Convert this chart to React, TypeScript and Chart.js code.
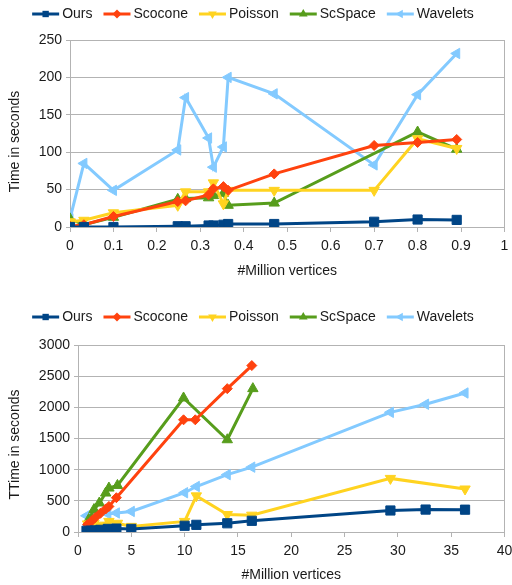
import React, { useEffect, useRef } from 'react';
import { Chart, registerables } from 'chart.js';

Chart.register(...registerables);

const FONT = '"Liberation Sans", Arial, sans-serif';
const TEXT_COLOR = '#1a1a1a';
const GRID_COLOR = '#b3b3b3';

const SERIES_NAMES = ['Ours', 'Scocone', 'Poisson', 'ScSpace', 'Wavelets'];
const SERIES_COLORS = ['#004586', '#ff420e', '#ffd320', '#579d1c', '#83caff'];
const SERIES_MARKERS = ['rect', 'rectRot', 'triangle', 'triangle', 'triangle'];
const SERIES_ROTATIONS = [0, 0, 180, 0, -90];

// ---- Top chart (small meshes) ----
const smallX = [0, 0.032, 0.1, 0.248, 0.266, 0.319, 0.33, 0.353, 0.364, 0.47, 0.7, 0.8, 0.89];
const smallOurs = [0, 0, 0, 1, 1, 2, 2, 3, 4, 4, 7, 10, 9.5];
const smallScocone = [1, 3, 14, 34, 35, 43, 51, 54, 49, 71, 109, 113, 117];
const smallPoisson = [7, 9, 19, 29, 47, 47, 59, 31, 49, 49, 49, 118, 105];
const smallScSpaceX = [0, 0.032, 0.1, 0.248, 0.266, 0.319, 0.33, 0.353, 0.364, 0.47, 0.8, 0.89];
const smallScSpace = [11, 3, 13, 37, 38, 39, 42, 45, 29, 32, 127, 104];
const smallWavelets = [11, 85, 49, 103, 173, 119, 80, 107, 200, 178, 83, 177, 232];

// ---- Bottom chart (large meshes) ----
const largeOursX = [0.8, 1.2, 1.6, 2.1, 2.8, 3.6, 5, 10, 11.1, 14, 16.3, 29.3, 32.6, 36.3];
const largeOurs = [20, 20, 25, 35, 50, 55, 50, 100, 115, 140, 180, 345, 360, 358];
const largeScoconeX = [0.9, 1.3, 1.6, 2.1, 2.6, 2.9, 3.6, 9.9, 11, 14, 16.3];
const largeScocone = [120, 180, 230, 300, 370, 410, 550, 1800, 1800, 2300, 2670];
const largePoissonX = [0.9, 1.5, 2.1, 2.9, 3.7, 5, 10, 11.1, 14, 16.3, 29.3, 36.3];
const largePoisson = [130, 140, 110, 170, 140, 90, 170, 580, 280, 270, 860, 690];
const largeScSpaceX = [1.0, 1.5, 2.0, 2.6, 2.9, 3.7, 9.9, 14, 16.4];
const largeScSpace = [200, 360, 465, 625, 705, 747, 2150, 1480, 2300];
const largeWaveletsX = [0.8, 1.5, 2.8, 3.6, 5, 10, 11.1, 14, 16.3, 29.3, 32.6, 36.3];
const largeWavelets = [260, 280, 290, 305, 330, 630, 730, 920, 1040, 1920, 2050, 2230];

function zip(xs: number[], ys: number[]) {
  return xs.map((x, i) => ({ x, y: ys[i] }));
}

function drawMarker(ctx: CanvasRenderingContext2D, style: string, rotation: number, x: number, y: number, r: number, color: string) {
  ctx.save();
  ctx.fillStyle = color;
  ctx.beginPath();
  if (style === 'rect') {
    const s = r * Math.SQRT1_2;
    ctx.rect(x - s, y - s, 2 * s, 2 * s);
  } else if (style === 'rectRot') {
    ctx.moveTo(x, y - r);
    ctx.lineTo(x + r, y);
    ctx.lineTo(x, y + r);
    ctx.lineTo(x - r, y);
    ctx.closePath();
  } else {
    let rad = (rotation * Math.PI) / 180;
    for (let k = 0; k < 3; k++) {
      const px = x + Math.sin(rad) * r;
      const py = y - Math.cos(rad) * r;
      if (k === 0) ctx.moveTo(px, py);
      else ctx.lineTo(px, py);
      rad += (2 * Math.PI) / 3;
    }
    ctx.closePath();
  }
  ctx.fill();
  ctx.restore();
}

const lineLegend = {
  id: 'lineLegend',
  afterDraw(chart: any, _args: any, opts: any) {
    const ctx: CanvasRenderingContext2D = chart.ctx;
    const y = opts.y;
    ctx.save();
    ctx.font = `14px ${FONT}`;
    const widths = SERIES_NAMES.map((n) => ctx.measureText(n).width);
    const LINE = 27;
    const GAP = 3;
    const SP = 11;
    const total = widths.reduce((a, w) => a + LINE + GAP + w, 0) + SP * (SERIES_NAMES.length - 1);
    let x = chart.width / 2 - total / 2 - 3;
    SERIES_NAMES.forEach((name, i) => {
      ctx.strokeStyle = SERIES_COLORS[i];
      ctx.lineWidth = 3;
      ctx.beginPath();
      ctx.moveTo(x, y);
      ctx.lineTo(x + LINE, y);
      ctx.stroke();
      drawMarker(ctx, SERIES_MARKERS[i], SERIES_ROTATIONS[i], x + LINE / 2, y, SERIES_MARKERS[i] === 'triangle' ? 5 : 4.5, SERIES_COLORS[i]);
      ctx.fillStyle = TEXT_COLOR;
      ctx.textBaseline = 'middle';
      ctx.textAlign = 'left';
      ctx.fillText(name, x + LINE + GAP, y + 0.5);
      x += LINE + GAP + widths[i] + SP;
    });
    ctx.restore();
  },
};

const sideTitle = {
  id: 'sideTitle',
  afterDraw(chart: any, _args: any, opts: any) {
    const ctx: CanvasRenderingContext2D = chart.ctx;
    const area = chart.chartArea;
    ctx.save();
    ctx.font = `14px ${FONT}`;
    ctx.fillStyle = TEXT_COLOR;
    ctx.textAlign = 'center';
    ctx.textBaseline = 'middle';
    ctx.translate(opts.x, (area.top + area.bottom) / 2 + opts.shift);
    ctx.rotate(-Math.PI / 2);
    ctx.fillText(opts.text, 0, 0);
    ctx.restore();
  },
};

const frame = {
  id: 'frame',
  beforeDatasetsDraw(chart: any) {
    const { ctx, chartArea } = chart;
    ctx.save();
    ctx.strokeStyle = GRID_COLOR;
    ctx.lineWidth = 1;
    ctx.strokeRect(Math.round(chartArea.left) + 0.5, Math.round(chartArea.top) + 0.5, Math.round(chartArea.right - chartArea.left) - 1, Math.round(chartArea.bottom - chartArea.top));
    ctx.restore();
  },
};

type Cfg = {
  data: { x: number; y: number }[][];
  xMax: number;
  xStep: number;
  yMax: number;
  yStep: number;
  yTitle: string;
  yTitleShift: number;
  yWidth: number;
  xHeight: number;
  padTop: number;
  xTitlePad: number;
  legendY: number;
};

function makeDatasets(data: { x: number; y: number }[][]) {
  return data.map((d, i) => ({
    label: SERIES_NAMES[i],
    data: d,
    showLine: true,
    borderColor: SERIES_COLORS[i],
    backgroundColor: SERIES_COLORS[i],
    borderWidth: 3,
    pointStyle: SERIES_MARKERS[i],
    rotation: SERIES_ROTATIONS[i],
    pointRadius: SERIES_MARKERS[i] === 'rect' ? 6.5 : SERIES_MARKERS[i] === 'rectRot' ? 5 : 6,
    pointBorderWidth: 1,
    pointBorderColor: SERIES_COLORS[i],
    pointBackgroundColor: SERIES_COLORS[i],
    tension: 0,
  }));
}

function ChartBox({ cfg, height }: { cfg: Cfg; height: number }) {
  const ref = useRef<HTMLCanvasElement | null>(null);
  useEffect(() => {
    if (!ref.current) return;
    const chart = new Chart(ref.current, {
      type: 'scatter',
      data: { datasets: makeDatasets(cfg.data) as any },
      plugins: [lineLegend, frame, sideTitle],
      options: {
        animation: false,
        responsive: false,
        layout: { padding: { top: cfg.padTop, right: 3, left: 0, bottom: 0 } },
        plugins: {
          legend: { display: false },
          tooltip: { enabled: false },
          lineLegend: { y: cfg.legendY },
          sideTitle: { text: cfg.yTitle, x: 15, shift: cfg.yTitleShift },
        } as any,
        scales: {
          x: {
            type: 'linear',
            min: 0,
            max: cfg.xMax,
            ticks: {
              stepSize: cfg.xStep,
              color: TEXT_COLOR,
              padding: 6,
              font: { size: 14, family: FONT },
              maxRotation: 0,
              callback: (v: any) => String(Number(Number(v).toFixed(3))),
            },
            grid: { display: true, drawOnChartArea: false, drawTicks: true, tickLength: 5, color: GRID_COLOR },
            border: { display: true, color: GRID_COLOR },
            title: { display: true, text: '#Million vertices', color: TEXT_COLOR, font: { size: 14, family: FONT }, padding: { top: 0, bottom: cfg.xTitlePad } },
            afterFit: (scale: any) => {
              scale.height = cfg.xHeight;
              scale.paddingRight = 0;
              scale.paddingLeft = 0;
            },
          },
          y: {
            type: 'linear',
            min: 0,
            max: cfg.yMax,
            ticks: { stepSize: cfg.yStep, color: TEXT_COLOR, padding: 4, font: { size: 14, family: FONT }, callback: (v: any) => String(v) },
            grid: { display: true, drawTicks: true, tickLength: 4, color: GRID_COLOR },
            border: { display: true, color: GRID_COLOR },
            title: { display: false },
            afterFit: (scale: any) => {
              scale.width = cfg.yWidth;
            },
          },
        },
      } as any,
    });
    return () => chart.destroy();
  }, [cfg]);
  return <canvas ref={ref} width={512} height={height} style={{ display: 'block', width: 512, height }} />;
}

const topCfg: Cfg = {
  data: [
    zip(smallX, smallOurs),
    zip(smallX, smallScocone),
    zip(smallX, smallPoisson),
    zip(smallScSpaceX, smallScSpace),
    zip(smallX, smallWavelets),
  ],
  xMax: 1,
  xStep: 0.1,
  yMax: 250,
  yStep: 50,
  yTitle: 'Time in seconds',
  yTitleShift: 8,
  yWidth: 70,
  xHeight: 65,
  padTop: 40,
  xTitlePad: 12,
  legendY: 14,
};

const bottomCfg: Cfg = {
  data: [
    zip(largeOursX, largeOurs),
    zip(largeScoconeX, largeScocone),
    zip(largePoissonX, largePoisson),
    zip(largeScSpaceX, largeScSpace),
    zip(largeWaveletsX, largeWavelets),
  ],
  xMax: 40,
  xStep: 5,
  yMax: 3000,
  yStep: 500,
  yTitle: 'TTime in seconds',
  yTitleShift: 6,
  yWidth: 78,
  xHeight: 53,
  padTop: 53,
  xTitlePad: 1,
  legendY: 25,
};

export default function App() {
  return (
    <div style={{ position: 'absolute', left: 0, top: 0, width: 512, height: 585, background: '#fff', overflow: 'hidden' }}>
      <ChartBox cfg={topCfg} height={292} />
      <ChartBox cfg={bottomCfg} height={293} />
    </div>
  );
}
